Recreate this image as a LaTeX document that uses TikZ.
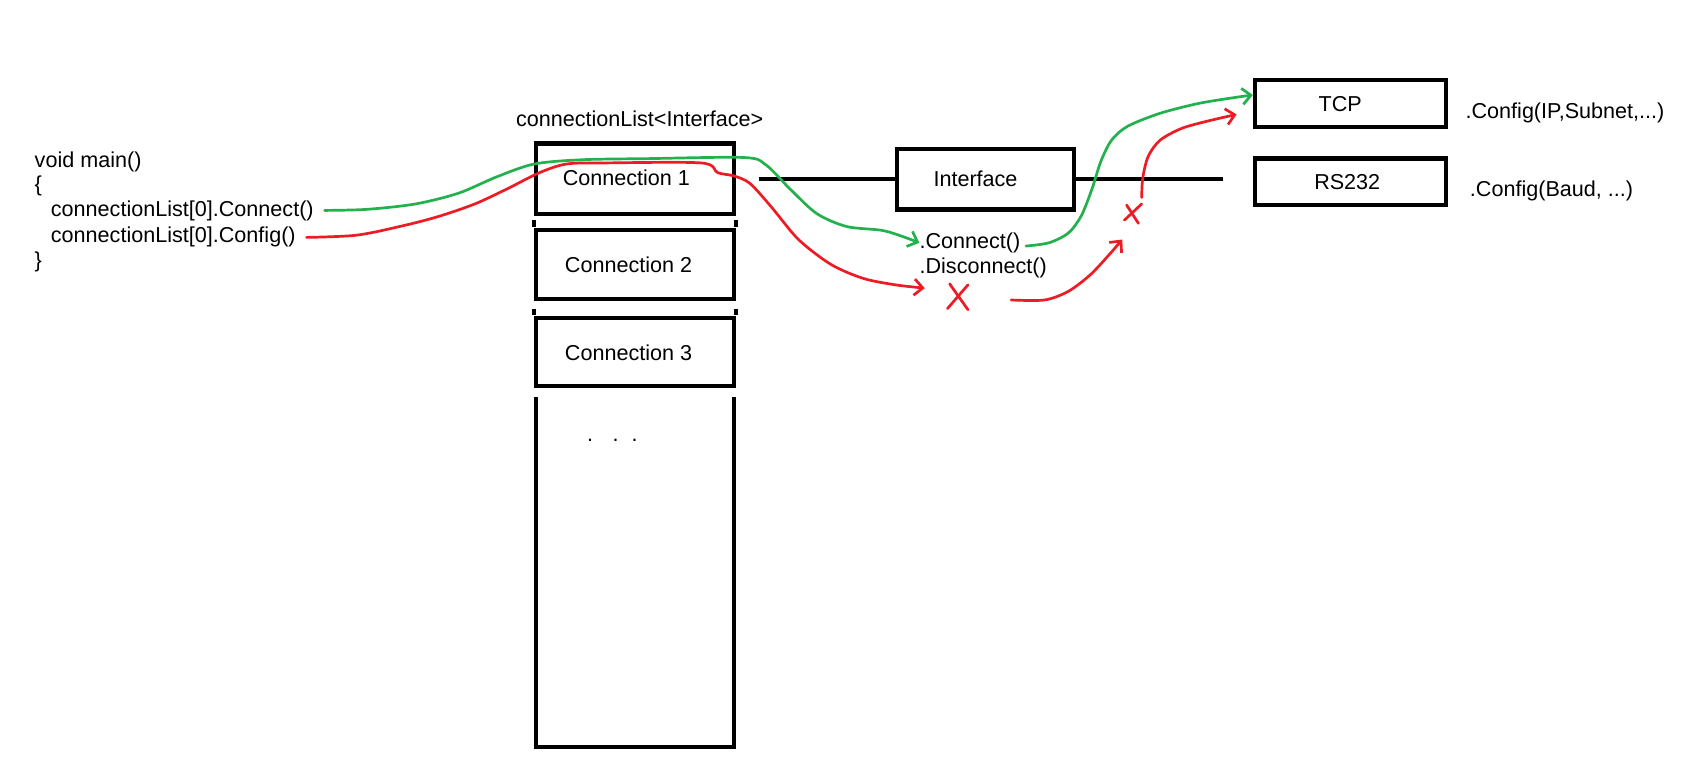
\documentclass[tikz,border=0pt]{standalone}
\usepackage{fontspec}
\setmainfont{Liberation Sans}
\usetikzlibrary{arrows.meta}
\definecolor{pgreen}{RGB}{34,177,76}
\definecolor{pred}{RGB}{237,28,36}
\begin{document}
\begin{tikzpicture}[x=1pt,y=-1pt,
  font=\fontsize{20}{24}\selectfont,
  box/.style={draw, line width=4pt, inner sep=0pt},
  txt/.style={anchor=west, inner sep=0pt},
  tick/.style={line width=4pt},
  gline/.style={pgreen, line width=2.5pt, line cap=round, line join=round},
  rline/.style={pred, line width=2.5pt, line cap=round, line join=round},
  barb/.style={-{Straight Barb[length=8pt,width=15pt]}},
  crossmark/.style={pred, line width=2.5pt, line cap=round}]
\useasboundingbox (0,0) rectangle (1568,715);

% code text
\node[txt] (vm) at (32,150) {void main()};
\node[txt] (ob) at (32,172) {\{};
\node[txt] (m1) at (47,195) {connectionList[0].Connect()};
\node[txt] (m2) at (47,220) {connectionList[0].Config()};
\node[txt] (cb) at (32,243) {\}};

% connection list
\node[txt] (cl) at (478,110) {connectionList<Interface>};
\node[box, minimum width=183pt, minimum height=65pt] (c1) at (588.5,165.5) {\raisebox{2pt}{Connection 1}\kern16pt};
\node[box, minimum width=183pt, minimum height=64pt] (c2) at (588.5,245) {Connection 2\kern12pt};
\node[box, minimum width=183pt, minimum height=63pt] (c3) at (588.5,326.5) {Connection 3\kern12pt};
\node[minimum width=183pt, minimum height=324pt, inner sep=0pt] (rest) at (588.5,530) {};
\draw[tick] (rest.north west) -- (rest.south west) -- (rest.south east) -- (rest.north east);
\node[txt] (dots) at (544,408) {.\hspace{18pt}.\hspace{12pt}.};

\draw[tick] (c1.south west) ++(0,4) -- ++(0,6);
\draw[tick] (c1.south east) ++(0,4) -- ++(0,6);
\draw[tick] (c2.south west) ++(0,7) -- ++(0,6);
\draw[tick] (c2.south east) ++(0,7) -- ++(0,6);

% interface and implementations
\node[box, minimum width=164pt, minimum height=56pt] (if) at (913,166) {Interface\kern18pt};
\coordinate (lfree) at (703,166);
\coordinate (rfree) at (1133,166);
\draw[tick] (lfree) -- (if.west);
\draw[tick] (if.east) -- (rfree);

\node[box, minimum width=177pt, minimum height=44pt] (tcp) at (1251.5,96) {\raisebox{-4pt}{TCP}\kern19pt};
\node[box, minimum width=177pt, minimum height=43pt] (rs) at (1251.5,168.5) {\raisebox{-3pt}{RS232}\kern6pt};
\node[txt] (tcpc) at (1358,105) {.Config(IP,Subnet,...)};
\node[txt] (rsc) at (1362,177) {.Config(Baud, ...)};

\node[txt] (con) at (852,225) {.Connect()};
\node[txt] (dis) at (852,248) {.Disconnect()};

% crosses
\coordinate (x1) at (888,275);
\coordinate (x2) at (1050,198);
\draw[crossmark] (x1) ++(-8,-12) -- ++(17,24);
\draw[crossmark] (x1) ++(9,-11) -- ++(-19,22);
\draw[crossmark] (x2) ++(-6,-8) -- ++(11,17);
\draw[crossmark] (x2) ++(8,-9) -- ++(-16,15);

\coordinate (r1end) at (857,267);
\coordinate (r2start) at (937,278);
\coordinate (r2end) at (1040,222);
\coordinate (r3start) at (1058,183);

% green path
\draw[gline, barb] plot[smooth, tension=0.5] coordinates {([xshift=10pt]m1.east) (340,194) (385,189) (425,179) (460,164) (495,152) (540,148) (600,147) (690,146) (710,153) (732,175) (757,198) (785,210) (820,214) (con.west)};
\draw[gline, barb] plot[smooth, tension=0.5] coordinates {([shift={(5pt,-3pt)}]con.east) (972,225) (990,216) (1002,200) (1012,175) (1020,150) (1030,130) (1045,117) (1075,105) (1110,96) (1140,91) ([yshift=8pt]tcp.west)};

% red path
\draw[rline, barb] plot[smooth, tension=0.5] coordinates {([xshift=10pt]m2.east) (330,218) (370,210) (405,201) (440,189) (470,175) (500,160) (525,152) (560,151) (650,151) (665,160) (680,163) (695,170) (715,192) (740,222) (770,245) (800,258) (830,264) (r1end)};
\draw[rline, barb] plot[smooth, tension=0.5] coordinates {(r2start) (968,278) (990,270) (1010,255) (1027,237) (r2end)};
\draw[rline, barb] plot[smooth, tension=0.5] coordinates {(r3start) (1059,165) (1064,145) (1075,130) (1095,119) (1120,112) ([shift={(-15pt,-10pt)}]tcp.west)};
\end{tikzpicture}
\end{document}
